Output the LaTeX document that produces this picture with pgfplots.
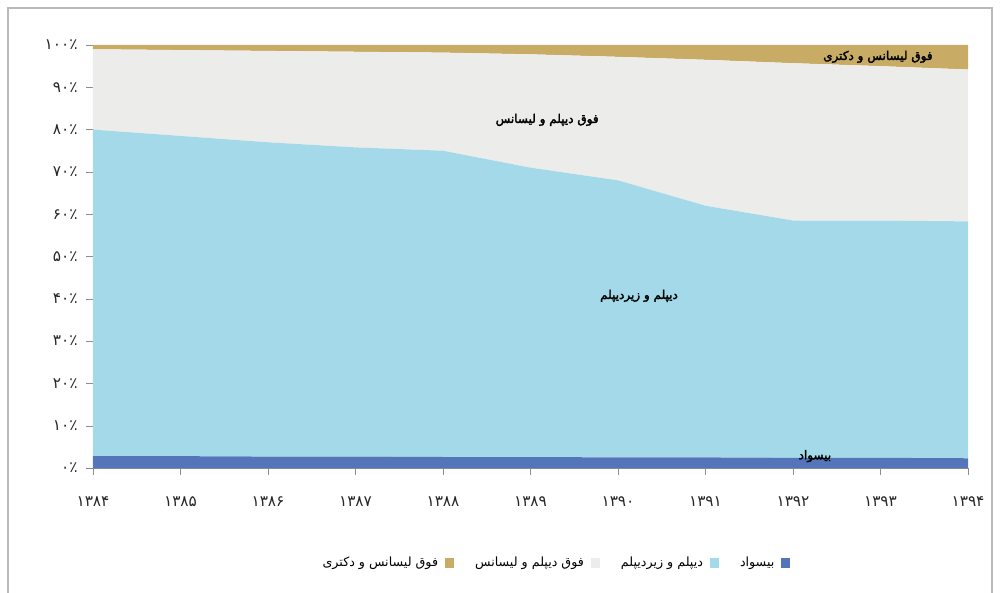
\documentclass[border=0pt]{standalone}
\usepackage{pgfplots}
\pgfplotsset{compat=1.18}
\usepackage{fontspec}
\setmainfont{DejaVu Sans}
\newfontfamily\arabicfont[Script=Arabic]{DejaVu Sans}
\newfontfamily\arabicbold[Script=Arabic,FakeBold=2.5]{DejaVu Sans}
\TeXXeTstate=1
\definecolor{cIll}{HTML}{5575BB}
\definecolor{cDip}{HTML}{A3D9E8}
\definecolor{cBac}{HTML}{ECECEA}
\definecolor{cMas}{HTML}{C8AC66}
\definecolor{axgray}{HTML}{8C8C8C}
\begin{document}
\begin{tikzpicture}
\begin{axis}[
  scale only axis, width=656.25pt, height=317.25pt,
  at={(0pt,0pt)}, anchor=south west,
  xmin=1384, xmax=1394, ymin=0, ymax=100,
  stack plots=y,
  axis x line*=bottom, axis y line*=left,
  axis line style={draw=axgray, -},
  xtick={1384,1385,1386,1387,1388,1389,1390,1391,1392,1393,1394},
  xticklabels={۱۳۸۴,۱۳۸۵,۱۳۸۶,۱۳۸۷,۱۳۸۸,۱۳۸۹,۱۳۹۰,۱۳۹۱,۱۳۹۲,۱۳۹۳,۱۳۹۴},
  ytick={0,10,20,30,40,50,60,70,80,90,100},
  yticklabels={۰٪,۱۰٪,۲۰٪,۳۰٪,۴۰٪,۵۰٪,۶۰٪,۷۰٪,۸۰٪,۹۰٪,۱۰۰٪},
  tick align=outside,
  major tick length=5pt,
  tick style={draw=axgray},
  tick label style={font=\arabicfont\fontsize{11.5}{13}\selectfont, text=black!85},
  xticklabel style={yshift=-13pt},
  yticklabel style={xshift=-3pt},
  legend style={at={(0.528,-0.2246)}, anchor=center, draw=none, fill=none,
    legend columns=-1, font=\arabicfont\fontsize{9.5}{11}\selectfont,
    /tikz/every even column/.append style={column sep=14pt},
    /tikz/every odd column/.append style={column sep=3pt}},
  legend plot pos=right,
  reverse legend,
  legend image code/.code={\fill[#1] (0pt,-3.4pt) rectangle (6.8pt,3.4pt);},
  clip=false,
]
\addplot[fill=cIll, draw=none] coordinates {(1384,2.8) (1385,2.8) (1386,2.7) (1387,2.7) (1388,2.6) (1389,2.6) (1390,2.5) (1391,2.5) (1392,2.4) (1393,2.4) (1394,2.3)} \closedcycle;
\addlegendentry{\beginR بیسواد\endR}
\addplot[fill=cDip, draw=none] coordinates {(1384,77.2) (1385,75.7) (1386,74.3) (1387,73.1) (1388,72.4) (1389,68.4) (1390,65.5) (1391,59.5) (1392,56.1) (1393,56.1) (1394,56.0)} \closedcycle;
\addlegendentry{\beginR دیپلم و زیردیپلم\endR}
\addplot[fill=cBac, draw=none] coordinates {(1384,19.0) (1385,20.3) (1386,21.6) (1387,22.6) (1388,23.2) (1389,26.8) (1390,29.2) (1391,34.5) (1392,37.2) (1393,36.5) (1394,35.9)} \closedcycle;
\addlegendentry{\beginR فوق دیپلم و لیسانس\endR}
\addplot[fill=cMas, draw=none] coordinates {(1384,1.0) (1385,1.2) (1386,1.4) (1387,1.6) (1388,1.8) (1389,2.2) (1390,2.8) (1391,3.5) (1392,4.3) (1393,5.0) (1394,5.8)} \closedcycle;
\addlegendentry{\beginR فوق لیسانس و دکتری\endR}
\coordinate (LM) at (axis cs:1392.97,97.2);
\coordinate (LB) at (axis cs:1389.19,82.3);
\coordinate (LD) at (axis cs:1390.24,40.7);
\coordinate (LI) at (axis cs:1392.25,2.8);
\end{axis}
\node[font=\arabicbold\fontsize{9}{10}\selectfont, text=black] at (LM) {\beginR فوق لیسانس و دکتری\endR};
\node[font=\arabicbold\fontsize{9}{10}\selectfont, text=black] at (LB) {\beginR فوق دیپلم و لیسانس\endR};
\node[font=\arabicbold\fontsize{9}{10}\selectfont, text=black] at (LD) {\beginR دیپلم و زیردیپلم\endR};
\node[font=\arabicbold\fontsize{9}{10}\selectfont, text=black] at (LI) {\beginR بیسواد\endR};
\draw[gray!55, line width=0.8pt] (-63.75pt,-100pt) -- (-63.75pt,345pt) -- (674.25pt,345pt) -- (674.25pt,-100pt);
\pgfresetboundingbox
\path (-69.75pt,-93.75pt) rectangle (681pt,351pt);
\end{tikzpicture}
\end{document}
